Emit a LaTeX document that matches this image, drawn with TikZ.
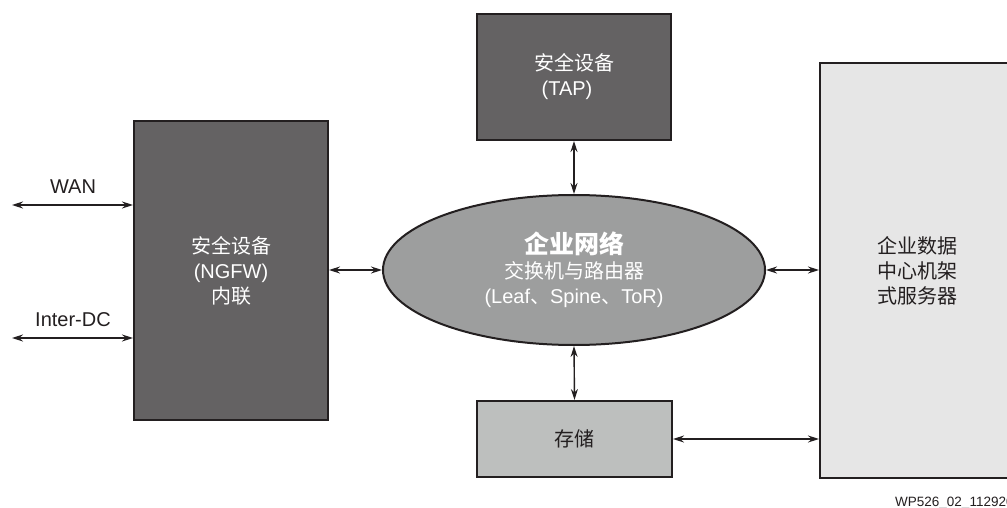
\documentclass[tikz,border=0pt]{standalone}
\usepackage{fontspec}
\setmainfont{Liberation Sans}
\newfontfamily\cjk{Noto Sans CJK SC}
\usetikzlibrary{shapes.geometric,arrows.meta}
\definecolor{dark}{HTML}{646263}
\definecolor{midgray}{HTML}{9D9E9E}
\definecolor{stogray}{HTML}{BDBFBE}
\definecolor{srvgray}{HTML}{E6E6E6}
\definecolor{ink}{HTML}{231F20}
\tikzset{
  blk/.style={draw=ink, line width=2pt, inner sep=0pt, align=center, font=\fontsize{20}{25}\selectfont},
  darkbox/.style={blk, fill=dark, text=white},
  arr/.style={ink, line width=1.4pt, {Stealth[length=11pt,width=7pt]}-{Stealth[length=11pt,width=7pt]}},
  lbl/.style={font=\fontsize{20}{24}\selectfont, text=ink, inner sep=0pt}
}
\begin{document}
\begin{tikzpicture}[x=1pt,y=-1pt]
\useasboundingbox (0,0) rectangle (1007,508);
\node[darkbox, minimum width=194pt, minimum height=299pt] (ngfw) at (231,270.5)
  {{\cjk 安全设备}\\(NGFW)\\{\cjk 内联}};
\node[darkbox, minimum width=194pt, minimum height=126pt] (tap) at (574,77)
  {{\cjk 安全设备}\\(TAP)\hspace*{14pt}};
\node[blk, ellipse, fill=midgray, text=white, minimum width=382pt, minimum height=150pt] (ell) at (574,270)
  {\raisebox{2pt}{\fontsize{25}{28}\selectfont\cjk\bfseries 企业网络}\\[-2pt]{\cjk 交换机与路由器}\\(Leaf{\cjk 、}Spine{\cjk 、}ToR)};
\node[blk, fill=stogray, text=ink, font=\fontsize{20}{25}\selectfont\cjk, minimum width=195pt, minimum height=76pt] (sto) at (574.5,439) {存储};
\node[blk, fill=srvgray, text=ink, font=\fontsize{20}{25}\selectfont\cjk, minimum width=194pt, minimum height=415pt] (srv) at (917,270.5)
  {企业数据\\中心机架\\式服务器};
\coordinate (wan) at (12,205);
\coordinate (idc) at (12,338);
\draw[arr] (wan) -- (wan -| ngfw.west);
\draw[arr] (idc) -- (idc -| ngfw.west);
\node[lbl] (wanl) at (73,187) {WAN};
\node[lbl] (idcl) at (73,320) {Inter-DC};
\draw[arr] (ngfw.east |- ell.west) -- (ell.west);
\draw[arr] (ell.east) -- (ell.east -| srv.west);
\draw[arr] (tap.south) -- (ell.north);
\draw[arr] (ell.south) -- (sto.north);
\draw[arr] (sto.east) -- (sto.east -| srv.west);
\node[anchor=west, font=\fontsize{13.5}{16}\selectfont, text=ink, inner sep=0pt] (wp) at (895,503) {WP526\_02\_112920};
\end{tikzpicture}
\end{document}
